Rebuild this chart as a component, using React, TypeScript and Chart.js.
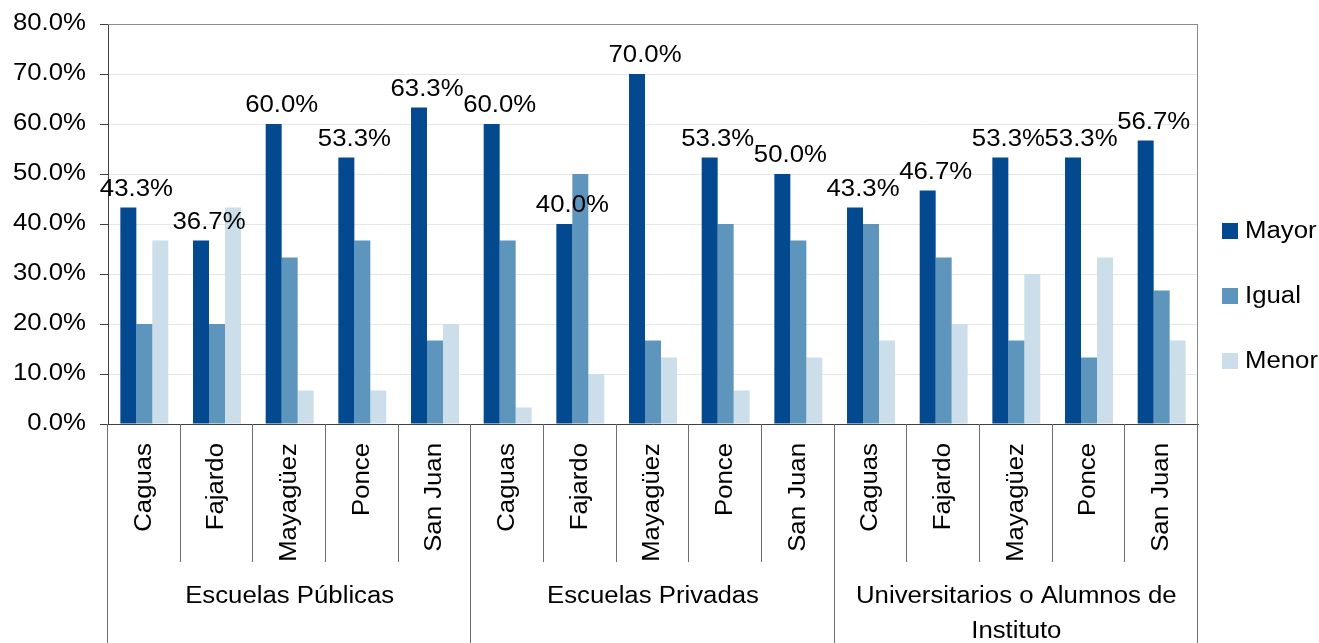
import React, { useEffect, useRef } from "react";
import { Chart, registerables } from "chart.js";

Chart.register(...registerables);

const groupLabels: string[][] = [
  ["Escuelas Públicas"],
  ["Escuelas Privadas"],
  ["Universitarios o Alumnos de", "Instituto"],
];
const cities = ["Caguas", "Fajardo", "Mayagüez", "Ponce", "San Juan"];
const categories = groupLabels.flatMap(() => cities);

const seriesNames = ["Mayor", "Igual", "Menor"];
const mayor = [43.3, 36.7, 60.0, 53.3, 63.3, 60.0, 40.0, 70.0, 53.3, 50.0, 43.3, 46.7, 53.3, 53.3, 56.7];
const igual = [20.0, 20.0, 33.3, 36.7, 16.7, 36.7, 50.0, 16.7, 40.0, 36.7, 40.0, 33.3, 16.7, 13.3, 26.7];
const menor = [36.7, 43.3, 6.7, 6.7, 20.0, 3.3, 10.0, 13.3, 6.7, 13.3, 16.7, 20.0, 30.0, 33.3, 16.7];
const yTicks = [0, 10, 20, 30, 40, 50, 60, 70, 80];

const COLORS = ["#02498F", "#5E95BC", "#CCDEEA"];
const FONT = '23px "Liberation Sans", Arial, sans-serif';
const SX = 1.12;

function txt(
  ctx: CanvasRenderingContext2D,
  s: string,
  x: number,
  y: number,
  align: CanvasTextAlign,
  baseline: CanvasTextBaseline,
  rot = 0
) {
  ctx.save();
  ctx.translate(x, y);
  if (rot) ctx.rotate(rot);
  ctx.scale(SX, 1);
  ctx.font = FONT;
  ctx.fillStyle = "#000";
  ctx.textAlign = align;
  ctx.textBaseline = baseline;
  ctx.fillText(s, 0, 0);
  ctx.restore();
}

const decorPlugin = {
  id: "decor",
  afterDraw(chart: any) {
    const ctx: CanvasRenderingContext2D = chart.ctx;
    const area = chart.chartArea;
    const xs = chart.scales.x;
    const ys = chart.scales.y;
    const H = chart.height;

    // plot border (top & right)
    ctx.save();
    ctx.strokeStyle = "#8a8a8a";
    ctx.lineWidth = 1;
    ctx.beginPath();
    ctx.moveTo(area.left, Math.round(area.top) + 0.5);
    ctx.lineTo(Math.round(area.right) - 0.5, Math.round(area.top) + 0.5);
    ctx.lineTo(Math.round(area.right) - 0.5, area.bottom);
    ctx.stroke();
    ctx.restore();

    // y tick labels
    yTicks.forEach((v) => {
      const y = ys.getPixelForValue(v);
      txt(ctx, v.toFixed(1) + "%", area.left - 22, y, "right", "middle");
    });

    // category separators
    const cw = xs.getPixelForValue(1) - xs.getPixelForValue(0);
    ctx.save();
    ctx.strokeStyle = "#6e6e6e";
    ctx.lineWidth = 1;
    for (let i = 0; i <= categories.length; i++) {
      const bx = Math.round(xs.getPixelForValue(0) - cw / 2 + i * cw) - 0.5;
      const isGroup = i % cities.length === 0;
      ctx.beginPath();
      ctx.moveTo(bx, area.bottom);
      ctx.lineTo(bx, isGroup ? H : area.bottom + 138);
      ctx.stroke();
    }
    ctx.restore();

    // city labels (rotated)
    categories.forEach((c, i) => {
      const cx = xs.getPixelForValue(i);
      txt(ctx, c, cx, area.bottom + 19, "right", "middle", -Math.PI / 2);
    });

    // group labels
    groupLabels.forEach((lines, g) => {
      const x0 = xs.getPixelForValue(g * cities.length);
      const x1 = xs.getPixelForValue(g * cities.length + cities.length - 1);
      const cx = (x0 + x1) / 2;
      lines.forEach((line, li) => {
        txt(ctx, line, cx, area.bottom + 173 + li * 35, "center", "middle");
      });
    });

    // data labels for Mayor
    const meta = chart.getDatasetMeta(0);
    meta.data.forEach((el: any, i: number) => {
      txt(ctx, mayor[i].toFixed(1) + "%", el.x + 8, el.y - 12, "center", "alphabetic");
    });

    // legend
    seriesNames.forEach((name, i) => {
      const top = 223 + i * 65;
      ctx.save();
      ctx.fillStyle = COLORS[i];
      ctx.fillRect(area.right + 24, top, 16, 16);
      ctx.restore();
      txt(ctx, name, area.right + 47, top + 15, "left", "alphabetic");
    });
  },
};

export default function App() {
  const ref = useRef<HTMLCanvasElement | null>(null);

  useEffect(() => {
    if (!ref.current) return;
    const chart = new Chart(ref.current, {
      type: "bar",
      data: {
        labels: categories,
        datasets: [mayor, igual, menor].map((d, i) => ({
          label: seriesNames[i],
          data: d,
          backgroundColor: COLORS[i],
          borderWidth: 0,
          categoryPercentage: 0.66,
          barPercentage: 1.0,
        })),
      },
      options: {
        responsive: false,
        animation: false,
        devicePixelRatio: 1,
        layout: { padding: { top: 24, right: 121, left: 0, bottom: 0 } },
        plugins: { legend: { display: false }, tooltip: { enabled: false } },
        scales: {
          x: {
            grid: { display: false },
            ticks: { display: false },
            border: { color: "#404040", width: 1 },
            afterFit: (s: any) => {
              s.height = 219;
            },
          },
          y: {
            min: 0,
            max: 80,
            ticks: { display: false, stepSize: 10 },
            grid: {
              color: (c: any) => (c.tick && c.tick.value === 80 ? "#8a8a8a" : "#e6e6e6"),
              tickColor: "#404040",
              tickLength: 8,
              drawTicks: true,
            },
            border: { color: "#404040", width: 1 },
            afterFit: (s: any) => {
              s.width = 108;
            },
          },
        },
      },
      plugins: [decorPlugin],
    });
    return () => chart.destroy();
  }, []);

  return (
    <div style={{ position: "fixed", left: 0, top: 0, width: 1319, height: 643, background: "#fff" }}>
      <canvas ref={ref} width={1319} height={643} style={{ display: "block" }} />
    </div>
  );
}
